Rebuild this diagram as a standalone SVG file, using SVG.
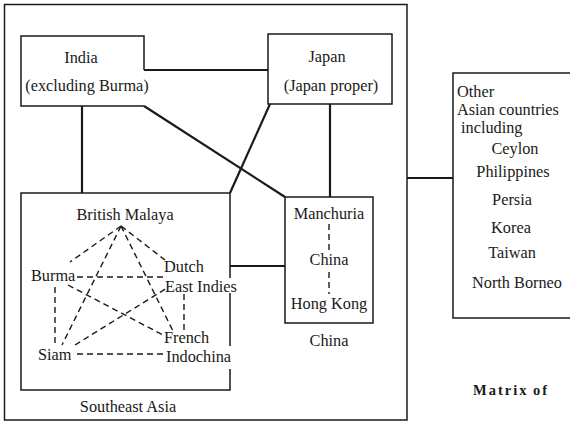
<svg xmlns="http://www.w3.org/2000/svg" width="570" height="423" viewBox="0 0 570 423">
<defs>
<style>
text{font-family:"Liberation Serif","Times New Roman",serif;font-size:16.3px;fill:#1a1a1a}
.m{text-anchor:middle}
.box{fill:none;stroke:#1a1a1a;stroke-width:1.5}
.con{fill:none;stroke:#1a1a1a;stroke-width:2.2}
.dash{fill:none;stroke:#1a1a1a;stroke-width:1.4;stroke-dasharray:6,4}
.b{font-weight:bold;letter-spacing:2px;font-size:14.5px}
</style>
</defs>
<rect width="570" height="423" fill="#fff"/>
<g id="frame"><rect class="box" x="4.5" y="4.5" width="402.5" height="415.5"/></g>
<g id="connectors">
<line class="con" x1="144" y1="70" x2="268" y2="70"/>
<line class="con" x1="82" y1="106" x2="82" y2="193"/>
<line class="con" x1="144" y1="106" x2="285" y2="197"/>
<line class="con" x1="270" y1="104" x2="230" y2="193"/>
<line class="con" x1="330" y1="104" x2="330" y2="197"/>
<line class="con" x1="230" y1="266" x2="285" y2="266"/>
<line class="con" x1="407" y1="178" x2="453" y2="178"/>
</g>
<g id="india">
<path class="box" d="M144,70 V36 H21 V106 H144"/>
<text class="m" x="81" y="63">India</text>
<text class="m" x="87" y="91">(excluding Burma)</text>
</g>
<g id="japan">
<rect class="box" x="268" y="34" width="124" height="70"/>
<text class="m" x="327" y="62">Japan</text>
<text class="m" x="331" y="91">(Japan proper)</text>
</g>
<g id="southeast-asia">
<path class="box" d="M230,278 V193 H21 V390 H230 V369 M230,293 V346"/>
<text class="m" x="128" y="412">Southeast Asia</text>
<text class="m" x="125" y="220">British Malaya</text>
<text x="31" y="281">Burma</text>
<text x="164" y="272">Dutch</text>
<text x="165" y="292">East Indies</text>
<text x="164" y="343">French</text>
<text x="166" y="362">Indochina</text>
<text x="38" y="360">Siam</text>
<g id="se-links">
<line class="dash" x1="121" y1="226" x2="70" y2="262"/>
<line class="dash" x1="121" y1="226" x2="165" y2="260"/>
<line class="dash" x1="121" y1="226" x2="62" y2="345"/>
<line class="dash" x1="121" y1="226" x2="174" y2="333"/>
<line class="dash" x1="77" y1="277" x2="163" y2="277"/>
<line class="dash" x1="55" y1="287" x2="55" y2="343"/>
<line class="dash" x1="68" y1="285" x2="163" y2="335"/>
<line class="dash" x1="75" y1="345" x2="167" y2="288"/>
<line class="dash" x1="77" y1="354" x2="163" y2="354"/>
<line class="dash" x1="184" y1="294" x2="184" y2="331"/>
</g>
</g>
<g id="china">
<rect class="box" x="285" y="197" width="88" height="126"/>
<text class="m" x="329" y="219">Manchuria</text>
<text class="m" x="329" y="265">China</text>
<text class="m" x="329" y="309">Hong Kong</text>
<line class="dash" x1="329" y1="224" x2="329" y2="250"/>
<line class="dash" x1="329" y1="272" x2="329" y2="294"/>
<text class="m" x="329" y="346">China</text>
</g>
<g id="other">
<path class="box" d="M575,73 H453 V318 H575"/>
<text x="457" y="97">Other</text>
<text x="457" y="115">Asian countries</text>
<text x="461" y="133">including</text>
<text class="m" x="515" y="154">Ceylon</text>
<text class="m" x="513" y="177">Philippines</text>
<text class="m" x="512" y="205">Persia</text>
<text class="m" x="511" y="233">Korea</text>
<text class="m" x="512" y="258">Taiwan</text>
<text class="m" x="517" y="288">North Borneo</text>
</g>
<text class="b" x="473" y="395">Matrix<tspan x="533">of</tspan></text>
</svg>
